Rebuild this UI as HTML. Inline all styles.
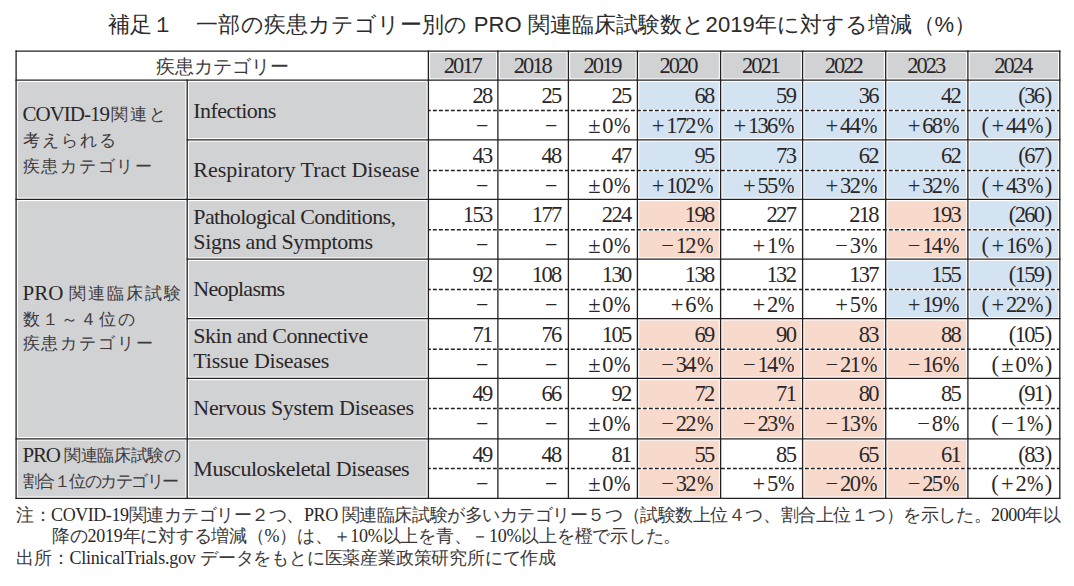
<!DOCTYPE html>
<html><head><meta charset="utf-8"><title>補足1</title>
<style>
html,body{margin:0;padding:0;background:#fff;}
body{width:1074px;height:586px;position:relative;overflow:hidden;}
svg{position:absolute;left:0;top:0;}
.t,.ti{position:absolute;white-space:nowrap;color:#2b2728;font-family:"Liberation Serif",serif;}
.ti{font-family:"Liberation Sans",sans-serif;color:#2b2b2b;}
i{font-style:normal;}
.cj{font-weight:normal;color:#3d393a;}
.op{margin:0 3.5px 0 0;}
.op2{margin-left:3.85px;}
.pl{margin-right:0.2px;}
.pr{margin-left:1.3px;}
.pr2{margin-left:0;}
.pc{display:inline-block;transform:scaleX(.88);margin:0 0.8px 0 0.75px;}
.pc2{margin-right:1.85px;}
</style></head><body>
<svg width="1074" height="586" viewBox="0 0 1074 586">
<rect x="430.20" y="53.00" width="65.90" height="25.40" fill="#d1d2d4"/>
<rect x="499.70" y="53.00" width="66.90" height="25.40" fill="#d1d2d4"/>
<rect x="570.20" y="53.00" width="65.40" height="25.40" fill="#d1d2d4"/>
<rect x="639.20" y="53.00" width="79.60" height="25.40" fill="#d1d2d4"/>
<rect x="722.40" y="53.00" width="78.40" height="25.40" fill="#d1d2d4"/>
<rect x="804.40" y="53.00" width="79.50" height="25.40" fill="#d1d2d4"/>
<rect x="887.50" y="53.00" width="78.60" height="25.40" fill="#d1d2d4"/>
<rect x="969.70" y="53.00" width="88.30" height="25.40" fill="#d1d2d4"/>
<rect x="17.90" y="82.00" width="167.50" height="115.60" fill="#d1d2d4"/>
<rect x="17.90" y="201.20" width="167.50" height="235.80" fill="#d1d2d4"/>
<rect x="17.90" y="440.60" width="167.50" height="55.90" fill="#d1d2d4"/>
<rect x="189.00" y="82.00" width="237.60" height="56.10" fill="#d1d2d4"/>
<rect x="189.00" y="141.70" width="237.60" height="55.90" fill="#d1d2d4"/>
<rect x="189.00" y="201.20" width="237.60" height="56.20" fill="#d1d2d4"/>
<rect x="189.00" y="261.00" width="237.60" height="55.90" fill="#d1d2d4"/>
<rect x="189.00" y="320.50" width="237.60" height="56.10" fill="#d1d2d4"/>
<rect x="189.00" y="380.20" width="237.60" height="56.80" fill="#d1d2d4"/>
<rect x="189.00" y="440.60" width="237.60" height="55.90" fill="#d1d2d4"/>
<rect x="639.20" y="82.00" width="79.60" height="27.30" fill="#d4e3f1"/>
<rect x="639.20" y="111.70" width="79.60" height="26.40" fill="#d4e3f1"/>
<rect x="722.40" y="82.00" width="78.40" height="27.30" fill="#d4e3f1"/>
<rect x="722.40" y="111.70" width="78.40" height="26.40" fill="#d4e3f1"/>
<rect x="804.40" y="82.00" width="79.50" height="27.30" fill="#d4e3f1"/>
<rect x="804.40" y="111.70" width="79.50" height="26.40" fill="#d4e3f1"/>
<rect x="887.50" y="82.00" width="78.60" height="27.30" fill="#d4e3f1"/>
<rect x="887.50" y="111.70" width="78.60" height="26.40" fill="#d4e3f1"/>
<rect x="969.70" y="82.00" width="88.30" height="27.30" fill="#d4e3f1"/>
<rect x="969.70" y="111.70" width="88.30" height="26.40" fill="#d4e3f1"/>
<rect x="639.20" y="141.70" width="79.60" height="27.60" fill="#d4e3f1"/>
<rect x="639.20" y="171.70" width="79.60" height="25.90" fill="#d4e3f1"/>
<rect x="722.40" y="141.70" width="78.40" height="27.60" fill="#d4e3f1"/>
<rect x="722.40" y="171.70" width="78.40" height="25.90" fill="#d4e3f1"/>
<rect x="804.40" y="141.70" width="79.50" height="27.60" fill="#d4e3f1"/>
<rect x="804.40" y="171.70" width="79.50" height="25.90" fill="#d4e3f1"/>
<rect x="887.50" y="141.70" width="78.60" height="27.60" fill="#d4e3f1"/>
<rect x="887.50" y="171.70" width="78.60" height="25.90" fill="#d4e3f1"/>
<rect x="969.70" y="141.70" width="88.30" height="27.60" fill="#d4e3f1"/>
<rect x="969.70" y="171.70" width="88.30" height="25.90" fill="#d4e3f1"/>
<rect x="639.20" y="201.20" width="79.60" height="27.40" fill="#f8dacd"/>
<rect x="639.20" y="231.00" width="79.60" height="26.40" fill="#f8dacd"/>
<rect x="887.50" y="201.20" width="78.60" height="27.40" fill="#f8dacd"/>
<rect x="887.50" y="231.00" width="78.60" height="26.40" fill="#f8dacd"/>
<rect x="969.70" y="201.20" width="88.30" height="27.40" fill="#d4e3f1"/>
<rect x="969.70" y="231.00" width="88.30" height="26.40" fill="#d4e3f1"/>
<rect x="887.50" y="261.00" width="78.60" height="27.30" fill="#d4e3f1"/>
<rect x="887.50" y="290.70" width="78.60" height="26.20" fill="#d4e3f1"/>
<rect x="969.70" y="261.00" width="88.30" height="27.30" fill="#d4e3f1"/>
<rect x="969.70" y="290.70" width="88.30" height="26.20" fill="#d4e3f1"/>
<rect x="639.20" y="320.50" width="79.60" height="27.50" fill="#f8dacd"/>
<rect x="639.20" y="350.40" width="79.60" height="26.20" fill="#f8dacd"/>
<rect x="722.40" y="320.50" width="78.40" height="27.50" fill="#f8dacd"/>
<rect x="722.40" y="350.40" width="78.40" height="26.20" fill="#f8dacd"/>
<rect x="804.40" y="320.50" width="79.50" height="27.50" fill="#f8dacd"/>
<rect x="804.40" y="350.40" width="79.50" height="26.20" fill="#f8dacd"/>
<rect x="887.50" y="320.50" width="78.60" height="27.50" fill="#f8dacd"/>
<rect x="887.50" y="350.40" width="78.60" height="26.20" fill="#f8dacd"/>
<rect x="639.20" y="380.20" width="79.60" height="27.20" fill="#f8dacd"/>
<rect x="639.20" y="409.80" width="79.60" height="27.20" fill="#f8dacd"/>
<rect x="722.40" y="380.20" width="78.40" height="27.20" fill="#f8dacd"/>
<rect x="722.40" y="409.80" width="78.40" height="27.20" fill="#f8dacd"/>
<rect x="804.40" y="380.20" width="79.50" height="27.20" fill="#f8dacd"/>
<rect x="804.40" y="409.80" width="79.50" height="27.20" fill="#f8dacd"/>
<rect x="639.20" y="440.60" width="79.60" height="26.70" fill="#f8dacd"/>
<rect x="639.20" y="469.70" width="79.60" height="26.80" fill="#f8dacd"/>
<rect x="804.40" y="440.60" width="79.50" height="26.70" fill="#f8dacd"/>
<rect x="804.40" y="469.70" width="79.50" height="26.80" fill="#f8dacd"/>
<rect x="887.50" y="440.60" width="78.60" height="26.70" fill="#f8dacd"/>
<rect x="887.50" y="469.70" width="78.60" height="26.80" fill="#f8dacd"/>
<line x1="15.45" y1="51.2" x2="1060.45" y2="51.2" stroke="#231f20" stroke-width="1.3"/>
<line x1="15.45" y1="80.2" x2="1060.45" y2="80.2" stroke="#231f20" stroke-width="1.3"/>
<line x1="186.55" y1="139.9" x2="1060.45" y2="139.9" stroke="#231f20" stroke-width="1.3"/>
<line x1="15.45" y1="199.4" x2="1060.45" y2="199.4" stroke="#231f20" stroke-width="1.3"/>
<line x1="186.55" y1="259.2" x2="1060.45" y2="259.2" stroke="#231f20" stroke-width="1.3"/>
<line x1="186.55" y1="318.7" x2="1060.45" y2="318.7" stroke="#231f20" stroke-width="1.3"/>
<line x1="186.55" y1="378.4" x2="1060.45" y2="378.4" stroke="#231f20" stroke-width="1.3"/>
<line x1="15.45" y1="438.8" x2="1060.45" y2="438.8" stroke="#231f20" stroke-width="1.3"/>
<line x1="15.45" y1="498.3" x2="1060.45" y2="498.3" stroke="#231f20" stroke-width="1.3"/>
<line x1="16.1" y1="50.55" x2="16.1" y2="498.95" stroke="#231f20" stroke-width="1.3"/>
<line x1="187.2" y1="79.55" x2="187.2" y2="498.95" stroke="#231f20" stroke-width="1.3"/>
<line x1="428.4" y1="50.55" x2="428.4" y2="498.95" stroke="#231f20" stroke-width="1.3"/>
<line x1="497.9" y1="50.55" x2="497.9" y2="498.95" stroke="#231f20" stroke-width="1.3"/>
<line x1="568.4" y1="50.55" x2="568.4" y2="498.95" stroke="#231f20" stroke-width="1.3"/>
<line x1="637.4" y1="50.55" x2="637.4" y2="498.95" stroke="#231f20" stroke-width="1.3"/>
<line x1="720.6" y1="50.55" x2="720.6" y2="498.95" stroke="#231f20" stroke-width="1.3"/>
<line x1="802.6" y1="50.55" x2="802.6" y2="498.95" stroke="#231f20" stroke-width="1.3"/>
<line x1="885.7" y1="50.55" x2="885.7" y2="498.95" stroke="#231f20" stroke-width="1.3"/>
<line x1="967.9" y1="50.55" x2="967.9" y2="498.95" stroke="#231f20" stroke-width="1.3"/>
<line x1="1059.8" y1="50.55" x2="1059.8" y2="498.95" stroke="#231f20" stroke-width="1.3"/>
<line x1="428.4" y1="110.50" x2="1059.8" y2="110.50" stroke="#231f20" stroke-width="1.5" stroke-dasharray="3.9 2.1" stroke-dashoffset="-4.5"/>
<line x1="428.4" y1="170.50" x2="1059.8" y2="170.50" stroke="#231f20" stroke-width="1.5" stroke-dasharray="3.9 2.1" stroke-dashoffset="-4.5"/>
<line x1="428.4" y1="229.80" x2="1059.8" y2="229.80" stroke="#231f20" stroke-width="1.5" stroke-dasharray="3.9 2.1" stroke-dashoffset="-4.5"/>
<line x1="428.4" y1="289.50" x2="1059.8" y2="289.50" stroke="#231f20" stroke-width="1.5" stroke-dasharray="3.9 2.1" stroke-dashoffset="-4.5"/>
<line x1="428.4" y1="349.20" x2="1059.8" y2="349.20" stroke="#231f20" stroke-width="1.5" stroke-dasharray="3.9 2.1" stroke-dashoffset="-4.5"/>
<line x1="428.4" y1="408.60" x2="1059.8" y2="408.60" stroke="#231f20" stroke-width="1.5" stroke-dasharray="3.9 2.1" stroke-dashoffset="-4.5"/>
<line x1="428.4" y1="468.50" x2="1059.8" y2="468.50" stroke="#231f20" stroke-width="1.5" stroke-dasharray="3.9 2.1" stroke-dashoffset="-4.5"/>
</svg>
<div class="ti" style="left:108.00px;width:942.00px;top:13.85px;font-size:22.03px;line-height:22.03px;letter-spacing:0.09px;text-align:left;">補足１　一部の疾患カテゴリー別の PRO 関連臨床試験数と2019年に対する増減（%）</div>
<div class="t" style="left:16.10px;width:412.30px;top:57.71px;font-size:18.5px;line-height:18.5px;letter-spacing:0px;text-align:center;"><b class="cj">疾患カテゴリー</b></div>
<div class="t" style="left:428.40px;width:67.50px;top:54.66px;font-size:22.5px;line-height:22.5px;letter-spacing:-2.0px;text-align:center;">2017</div>
<div class="t" style="left:497.90px;width:68.50px;top:54.66px;font-size:22.5px;line-height:22.5px;letter-spacing:-2.0px;text-align:center;">2018</div>
<div class="t" style="left:568.40px;width:67.00px;top:54.66px;font-size:22.5px;line-height:22.5px;letter-spacing:-2.0px;text-align:center;">2019</div>
<div class="t" style="left:637.40px;width:81.20px;top:54.66px;font-size:22.5px;line-height:22.5px;letter-spacing:-2.0px;text-align:center;">2020</div>
<div class="t" style="left:720.60px;width:80.00px;top:54.66px;font-size:22.5px;line-height:22.5px;letter-spacing:-2.0px;text-align:center;">2021</div>
<div class="t" style="left:802.60px;width:81.10px;top:54.66px;font-size:22.5px;line-height:22.5px;letter-spacing:-2.0px;text-align:center;">2022</div>
<div class="t" style="left:885.70px;width:80.20px;top:54.66px;font-size:22.5px;line-height:22.5px;letter-spacing:-2.0px;text-align:center;">2023</div>
<div class="t" style="left:967.90px;width:89.90px;top:54.66px;font-size:22.5px;line-height:22.5px;letter-spacing:-2.0px;text-align:center;">2024</div>
<div class="t" style="left:22.50px;width:237.50px;top:104.41px;font-size:21px;line-height:21px;letter-spacing:0px;text-align:left;"><span style="letter-spacing:-1.0px">COVID-19</span><span style="font-size:17px;letter-spacing:2.2px;color:#3d393a;margin-left:2px;position:relative;top:-1.0px">関連と</span></div>
<div class="t" style="left:22.50px;width:237.50px;top:128.91px;font-size:21px;line-height:21px;letter-spacing:0px;text-align:left;"><span style="font-size:17px;letter-spacing:2.2px;color:#3d393a">考えられる</span></div>
<div class="t" style="left:22.50px;width:237.50px;top:154.91px;font-size:21px;line-height:21px;letter-spacing:0px;text-align:left;"><span style="font-size:17px;letter-spacing:1.8px;color:#3d393a">疾患カテゴリー</span></div>
<div class="t" style="left:22.50px;width:237.50px;top:283.31px;font-size:21px;line-height:21px;letter-spacing:0px;text-align:left;">PRO <span style="font-size:17px;letter-spacing:2.1px;color:#3d393a;position:relative;top:-1.0px">関連臨床試験</span></div>
<div class="t" style="left:22.50px;width:237.50px;top:307.71px;font-size:21px;line-height:21px;letter-spacing:0px;text-align:left;"><span style="font-size:17px;letter-spacing:2.2px;color:#3d393a">数１～４位の</span></div>
<div class="t" style="left:22.50px;width:237.50px;top:332.01px;font-size:21px;line-height:21px;letter-spacing:0px;text-align:left;"><span style="font-size:17px;letter-spacing:1.9px;color:#3d393a">疾患カテゴリー</span></div>
<div class="t" style="left:22.50px;width:237.50px;top:445.41px;font-size:21px;line-height:21px;letter-spacing:0px;text-align:left;"><span style="letter-spacing:-1.2px">PRO </span><span style="font-size:17px;letter-spacing:-0.3px;color:#3d393a;position:relative;top:-1.0px">関連臨床試験の</span></div>
<div class="t" style="left:22.50px;width:237.50px;top:469.91px;font-size:21px;line-height:21px;letter-spacing:0px;text-align:left;"><span style="font-size:17px;letter-spacing:-1.5px;color:#3d393a">割合１位のカテゴリー</span></div>
<div class="t" style="left:193.30px;width:233.70px;top:99.88px;font-size:22px;line-height:22px;letter-spacing:-0.55px;text-align:left;">Infections</div>
<div class="t" style="left:428.40px;width:63.10px;top:85.06px;font-size:22.5px;line-height:22.5px;letter-spacing:-1.7px;text-align:right;">28</div>
<div class="t" style="left:428.40px;width:60.10px;top:115.08px;font-size:22px;line-height:22px;letter-spacing:0px;text-align:right;">−</div>
<div class="t" style="left:497.90px;width:62.60px;top:85.06px;font-size:22.5px;line-height:22.5px;letter-spacing:-1.7px;text-align:right;">25</div>
<div class="t" style="left:497.90px;width:59.60px;top:115.08px;font-size:22px;line-height:22px;letter-spacing:0px;text-align:right;">−</div>
<div class="t" style="left:568.40px;width:62.10px;top:85.06px;font-size:22.5px;line-height:22.5px;letter-spacing:-1.7px;text-align:right;">25</div>
<div class="t" style="left:568.40px;width:62.10px;top:115.36px;font-size:22.5px;line-height:22.5px;letter-spacing:-1.7px;text-align:right;"><i class="op">±</i>0<i class="pc">%</i></div>
<div class="t" style="left:637.40px;width:76.10px;top:85.06px;font-size:22.5px;line-height:22.5px;letter-spacing:-1.7px;text-align:right;">68</div>
<div class="t" style="left:637.40px;width:76.10px;top:115.36px;font-size:22.5px;line-height:22.5px;letter-spacing:-1.7px;text-align:right;"><i class="op">+</i>172<i class="pc">%</i></div>
<div class="t" style="left:720.60px;width:74.60px;top:85.06px;font-size:22.5px;line-height:22.5px;letter-spacing:-1.7px;text-align:right;">59</div>
<div class="t" style="left:720.60px;width:74.60px;top:115.36px;font-size:22.5px;line-height:22.5px;letter-spacing:-1.7px;text-align:right;"><i class="op">+</i>136<i class="pc">%</i></div>
<div class="t" style="left:802.60px;width:75.20px;top:85.06px;font-size:22.5px;line-height:22.5px;letter-spacing:-1.7px;text-align:right;">36</div>
<div class="t" style="left:802.60px;width:75.20px;top:115.36px;font-size:22.5px;line-height:22.5px;letter-spacing:-1.7px;text-align:right;"><i class="op">+</i>44<i class="pc">%</i></div>
<div class="t" style="left:885.70px;width:74.30px;top:85.06px;font-size:22.5px;line-height:22.5px;letter-spacing:-1.7px;text-align:right;">42</div>
<div class="t" style="left:885.70px;width:74.30px;top:115.36px;font-size:22.5px;line-height:22.5px;letter-spacing:-1.7px;text-align:right;"><i class="op">+</i>68<i class="pc">%</i></div>
<div class="t" style="left:967.90px;width:82.60px;top:85.06px;font-size:22.5px;line-height:22.5px;letter-spacing:-1.7px;text-align:right;"><i class="pl">(</i>36<i class="pr">)</i></div>
<div class="t" style="left:967.90px;width:82.60px;top:115.36px;font-size:22.5px;line-height:22.5px;letter-spacing:-1.7px;text-align:right;"><i class="pl">(</i><i class="op op2">+</i>44<i class="pc pc2">%</i><i class="pr2">)</i></div>
<div class="t" style="left:193.30px;width:233.70px;top:159.07px;font-size:22px;line-height:22px;letter-spacing:-0.04px;text-align:left;">Respiratory Tract Disease</div>
<div class="t" style="left:428.40px;width:63.10px;top:144.76px;font-size:22.5px;line-height:22.5px;letter-spacing:-1.7px;text-align:right;">43</div>
<div class="t" style="left:428.40px;width:60.10px;top:175.07px;font-size:22px;line-height:22px;letter-spacing:0px;text-align:right;">−</div>
<div class="t" style="left:497.90px;width:62.60px;top:144.76px;font-size:22.5px;line-height:22.5px;letter-spacing:-1.7px;text-align:right;">48</div>
<div class="t" style="left:497.90px;width:59.60px;top:175.07px;font-size:22px;line-height:22px;letter-spacing:0px;text-align:right;">−</div>
<div class="t" style="left:568.40px;width:62.10px;top:144.76px;font-size:22.5px;line-height:22.5px;letter-spacing:-1.7px;text-align:right;">47</div>
<div class="t" style="left:568.40px;width:62.10px;top:175.36px;font-size:22.5px;line-height:22.5px;letter-spacing:-1.7px;text-align:right;"><i class="op">±</i>0<i class="pc">%</i></div>
<div class="t" style="left:637.40px;width:76.10px;top:144.76px;font-size:22.5px;line-height:22.5px;letter-spacing:-1.7px;text-align:right;">95</div>
<div class="t" style="left:637.40px;width:76.10px;top:175.36px;font-size:22.5px;line-height:22.5px;letter-spacing:-1.7px;text-align:right;"><i class="op">+</i>102<i class="pc">%</i></div>
<div class="t" style="left:720.60px;width:74.60px;top:144.76px;font-size:22.5px;line-height:22.5px;letter-spacing:-1.7px;text-align:right;">73</div>
<div class="t" style="left:720.60px;width:74.60px;top:175.36px;font-size:22.5px;line-height:22.5px;letter-spacing:-1.7px;text-align:right;"><i class="op">+</i>55<i class="pc">%</i></div>
<div class="t" style="left:802.60px;width:75.20px;top:144.76px;font-size:22.5px;line-height:22.5px;letter-spacing:-1.7px;text-align:right;">62</div>
<div class="t" style="left:802.60px;width:75.20px;top:175.36px;font-size:22.5px;line-height:22.5px;letter-spacing:-1.7px;text-align:right;"><i class="op">+</i>32<i class="pc">%</i></div>
<div class="t" style="left:885.70px;width:74.30px;top:144.76px;font-size:22.5px;line-height:22.5px;letter-spacing:-1.7px;text-align:right;">62</div>
<div class="t" style="left:885.70px;width:74.30px;top:175.36px;font-size:22.5px;line-height:22.5px;letter-spacing:-1.7px;text-align:right;"><i class="op">+</i>32<i class="pc">%</i></div>
<div class="t" style="left:967.90px;width:82.60px;top:144.76px;font-size:22.5px;line-height:22.5px;letter-spacing:-1.7px;text-align:right;"><i class="pl">(</i>67<i class="pr">)</i></div>
<div class="t" style="left:967.90px;width:82.60px;top:175.36px;font-size:22.5px;line-height:22.5px;letter-spacing:-1.7px;text-align:right;"><i class="pl">(</i><i class="op op2">+</i>43<i class="pc pc2">%</i><i class="pr2">)</i></div>
<div class="t" style="left:193.30px;width:233.70px;top:205.97px;font-size:22px;line-height:22px;letter-spacing:-0.65px;text-align:left;">Pathological Conditions,</div>
<div class="t" style="left:193.30px;width:233.70px;top:231.47px;font-size:22px;line-height:22px;letter-spacing:-0.35px;text-align:left;">Signs and Symptoms</div>
<div class="t" style="left:428.40px;width:63.10px;top:204.26px;font-size:22.5px;line-height:22.5px;letter-spacing:-1.7px;text-align:right;">153</div>
<div class="t" style="left:428.40px;width:60.10px;top:234.38px;font-size:22px;line-height:22px;letter-spacing:0px;text-align:right;">−</div>
<div class="t" style="left:497.90px;width:62.60px;top:204.26px;font-size:22.5px;line-height:22.5px;letter-spacing:-1.7px;text-align:right;">177</div>
<div class="t" style="left:497.90px;width:59.60px;top:234.38px;font-size:22px;line-height:22px;letter-spacing:0px;text-align:right;">−</div>
<div class="t" style="left:568.40px;width:62.10px;top:204.26px;font-size:22.5px;line-height:22.5px;letter-spacing:-1.7px;text-align:right;">224</div>
<div class="t" style="left:568.40px;width:62.10px;top:234.66px;font-size:22.5px;line-height:22.5px;letter-spacing:-1.7px;text-align:right;"><i class="op">±</i>0<i class="pc">%</i></div>
<div class="t" style="left:637.40px;width:76.10px;top:204.26px;font-size:22.5px;line-height:22.5px;letter-spacing:-1.7px;text-align:right;">198</div>
<div class="t" style="left:637.40px;width:76.10px;top:234.66px;font-size:22.5px;line-height:22.5px;letter-spacing:-1.7px;text-align:right;"><i class="op">−</i>12<i class="pc">%</i></div>
<div class="t" style="left:720.60px;width:74.60px;top:204.26px;font-size:22.5px;line-height:22.5px;letter-spacing:-1.7px;text-align:right;">227</div>
<div class="t" style="left:720.60px;width:74.60px;top:234.66px;font-size:22.5px;line-height:22.5px;letter-spacing:-1.7px;text-align:right;"><i class="op">+</i>1<i class="pc">%</i></div>
<div class="t" style="left:802.60px;width:75.20px;top:204.26px;font-size:22.5px;line-height:22.5px;letter-spacing:-1.7px;text-align:right;">218</div>
<div class="t" style="left:802.60px;width:75.20px;top:234.66px;font-size:22.5px;line-height:22.5px;letter-spacing:-1.7px;text-align:right;"><i class="op">−</i>3<i class="pc">%</i></div>
<div class="t" style="left:885.70px;width:74.30px;top:204.26px;font-size:22.5px;line-height:22.5px;letter-spacing:-1.7px;text-align:right;">193</div>
<div class="t" style="left:885.70px;width:74.30px;top:234.66px;font-size:22.5px;line-height:22.5px;letter-spacing:-1.7px;text-align:right;"><i class="op">−</i>14<i class="pc">%</i></div>
<div class="t" style="left:967.90px;width:82.60px;top:204.26px;font-size:22.5px;line-height:22.5px;letter-spacing:-1.7px;text-align:right;"><i class="pl">(</i>260<i class="pr">)</i></div>
<div class="t" style="left:967.90px;width:82.60px;top:234.66px;font-size:22.5px;line-height:22.5px;letter-spacing:-1.7px;text-align:right;"><i class="pl">(</i><i class="op op2">+</i>16<i class="pc pc2">%</i><i class="pr2">)</i></div>
<div class="t" style="left:193.30px;width:233.70px;top:278.38px;font-size:22px;line-height:22px;letter-spacing:-0.74px;text-align:left;">Neoplasms</div>
<div class="t" style="left:428.40px;width:63.10px;top:264.06px;font-size:22.5px;line-height:22.5px;letter-spacing:-1.7px;text-align:right;">92</div>
<div class="t" style="left:428.40px;width:60.10px;top:294.07px;font-size:22px;line-height:22px;letter-spacing:0px;text-align:right;">−</div>
<div class="t" style="left:497.90px;width:62.60px;top:264.06px;font-size:22.5px;line-height:22.5px;letter-spacing:-1.7px;text-align:right;">108</div>
<div class="t" style="left:497.90px;width:59.60px;top:294.07px;font-size:22px;line-height:22px;letter-spacing:0px;text-align:right;">−</div>
<div class="t" style="left:568.40px;width:62.10px;top:264.06px;font-size:22.5px;line-height:22.5px;letter-spacing:-1.7px;text-align:right;">130</div>
<div class="t" style="left:568.40px;width:62.10px;top:294.36px;font-size:22.5px;line-height:22.5px;letter-spacing:-1.7px;text-align:right;"><i class="op">±</i>0<i class="pc">%</i></div>
<div class="t" style="left:637.40px;width:76.10px;top:264.06px;font-size:22.5px;line-height:22.5px;letter-spacing:-1.7px;text-align:right;">138</div>
<div class="t" style="left:637.40px;width:76.10px;top:294.36px;font-size:22.5px;line-height:22.5px;letter-spacing:-1.7px;text-align:right;"><i class="op">+</i>6<i class="pc">%</i></div>
<div class="t" style="left:720.60px;width:74.60px;top:264.06px;font-size:22.5px;line-height:22.5px;letter-spacing:-1.7px;text-align:right;">132</div>
<div class="t" style="left:720.60px;width:74.60px;top:294.36px;font-size:22.5px;line-height:22.5px;letter-spacing:-1.7px;text-align:right;"><i class="op">+</i>2<i class="pc">%</i></div>
<div class="t" style="left:802.60px;width:75.20px;top:264.06px;font-size:22.5px;line-height:22.5px;letter-spacing:-1.7px;text-align:right;">137</div>
<div class="t" style="left:802.60px;width:75.20px;top:294.36px;font-size:22.5px;line-height:22.5px;letter-spacing:-1.7px;text-align:right;"><i class="op">+</i>5<i class="pc">%</i></div>
<div class="t" style="left:885.70px;width:74.30px;top:264.06px;font-size:22.5px;line-height:22.5px;letter-spacing:-1.7px;text-align:right;">155</div>
<div class="t" style="left:885.70px;width:74.30px;top:294.36px;font-size:22.5px;line-height:22.5px;letter-spacing:-1.7px;text-align:right;"><i class="op">+</i>19<i class="pc">%</i></div>
<div class="t" style="left:967.90px;width:82.60px;top:264.06px;font-size:22.5px;line-height:22.5px;letter-spacing:-1.7px;text-align:right;"><i class="pl">(</i>159<i class="pr">)</i></div>
<div class="t" style="left:967.90px;width:82.60px;top:294.36px;font-size:22.5px;line-height:22.5px;letter-spacing:-1.7px;text-align:right;"><i class="pl">(</i><i class="op op2">+</i>22<i class="pc pc2">%</i><i class="pr2">)</i></div>
<div class="t" style="left:193.30px;width:233.70px;top:325.47px;font-size:22px;line-height:22px;letter-spacing:-0.47px;text-align:left;">Skin and Connective</div>
<div class="t" style="left:193.30px;width:233.70px;top:350.47px;font-size:22px;line-height:22px;letter-spacing:-0.22px;text-align:left;">Tissue Diseases</div>
<div class="t" style="left:428.40px;width:63.10px;top:323.56px;font-size:22.5px;line-height:22.5px;letter-spacing:-1.7px;text-align:right;">71</div>
<div class="t" style="left:428.40px;width:60.10px;top:353.77px;font-size:22px;line-height:22px;letter-spacing:0px;text-align:right;">−</div>
<div class="t" style="left:497.90px;width:62.60px;top:323.56px;font-size:22.5px;line-height:22.5px;letter-spacing:-1.7px;text-align:right;">76</div>
<div class="t" style="left:497.90px;width:59.60px;top:353.77px;font-size:22px;line-height:22px;letter-spacing:0px;text-align:right;">−</div>
<div class="t" style="left:568.40px;width:62.10px;top:323.56px;font-size:22.5px;line-height:22.5px;letter-spacing:-1.7px;text-align:right;">105</div>
<div class="t" style="left:568.40px;width:62.10px;top:354.06px;font-size:22.5px;line-height:22.5px;letter-spacing:-1.7px;text-align:right;"><i class="op">±</i>0<i class="pc">%</i></div>
<div class="t" style="left:637.40px;width:76.10px;top:323.56px;font-size:22.5px;line-height:22.5px;letter-spacing:-1.7px;text-align:right;">69</div>
<div class="t" style="left:637.40px;width:76.10px;top:354.06px;font-size:22.5px;line-height:22.5px;letter-spacing:-1.7px;text-align:right;"><i class="op">−</i>34<i class="pc">%</i></div>
<div class="t" style="left:720.60px;width:74.60px;top:323.56px;font-size:22.5px;line-height:22.5px;letter-spacing:-1.7px;text-align:right;">90</div>
<div class="t" style="left:720.60px;width:74.60px;top:354.06px;font-size:22.5px;line-height:22.5px;letter-spacing:-1.7px;text-align:right;"><i class="op">−</i>14<i class="pc">%</i></div>
<div class="t" style="left:802.60px;width:75.20px;top:323.56px;font-size:22.5px;line-height:22.5px;letter-spacing:-1.7px;text-align:right;">83</div>
<div class="t" style="left:802.60px;width:75.20px;top:354.06px;font-size:22.5px;line-height:22.5px;letter-spacing:-1.7px;text-align:right;"><i class="op">−</i>21<i class="pc">%</i></div>
<div class="t" style="left:885.70px;width:74.30px;top:323.56px;font-size:22.5px;line-height:22.5px;letter-spacing:-1.7px;text-align:right;">88</div>
<div class="t" style="left:885.70px;width:74.30px;top:354.06px;font-size:22.5px;line-height:22.5px;letter-spacing:-1.7px;text-align:right;"><i class="op">−</i>16<i class="pc">%</i></div>
<div class="t" style="left:967.90px;width:82.60px;top:323.56px;font-size:22.5px;line-height:22.5px;letter-spacing:-1.7px;text-align:right;"><i class="pl">(</i>105<i class="pr">)</i></div>
<div class="t" style="left:967.90px;width:82.60px;top:354.06px;font-size:22.5px;line-height:22.5px;letter-spacing:-1.7px;text-align:right;"><i class="pl">(</i><i class="op op2">±</i>0<i class="pc pc2">%</i><i class="pr2">)</i></div>
<div class="t" style="left:193.30px;width:233.70px;top:397.47px;font-size:22px;line-height:22px;letter-spacing:-0.3px;text-align:left;">Nervous System Diseases</div>
<div class="t" style="left:428.40px;width:63.10px;top:383.26px;font-size:22.5px;line-height:22.5px;letter-spacing:-1.7px;text-align:right;">49</div>
<div class="t" style="left:428.40px;width:60.10px;top:413.18px;font-size:22px;line-height:22px;letter-spacing:0px;text-align:right;">−</div>
<div class="t" style="left:497.90px;width:62.60px;top:383.26px;font-size:22.5px;line-height:22.5px;letter-spacing:-1.7px;text-align:right;">66</div>
<div class="t" style="left:497.90px;width:59.60px;top:413.18px;font-size:22px;line-height:22px;letter-spacing:0px;text-align:right;">−</div>
<div class="t" style="left:568.40px;width:62.10px;top:383.26px;font-size:22.5px;line-height:22.5px;letter-spacing:-1.7px;text-align:right;">92</div>
<div class="t" style="left:568.40px;width:62.10px;top:413.46px;font-size:22.5px;line-height:22.5px;letter-spacing:-1.7px;text-align:right;"><i class="op">±</i>0<i class="pc">%</i></div>
<div class="t" style="left:637.40px;width:76.10px;top:383.26px;font-size:22.5px;line-height:22.5px;letter-spacing:-1.7px;text-align:right;">72</div>
<div class="t" style="left:637.40px;width:76.10px;top:413.46px;font-size:22.5px;line-height:22.5px;letter-spacing:-1.7px;text-align:right;"><i class="op">−</i>22<i class="pc">%</i></div>
<div class="t" style="left:720.60px;width:74.60px;top:383.26px;font-size:22.5px;line-height:22.5px;letter-spacing:-1.7px;text-align:right;">71</div>
<div class="t" style="left:720.60px;width:74.60px;top:413.46px;font-size:22.5px;line-height:22.5px;letter-spacing:-1.7px;text-align:right;"><i class="op">−</i>23<i class="pc">%</i></div>
<div class="t" style="left:802.60px;width:75.20px;top:383.26px;font-size:22.5px;line-height:22.5px;letter-spacing:-1.7px;text-align:right;">80</div>
<div class="t" style="left:802.60px;width:75.20px;top:413.46px;font-size:22.5px;line-height:22.5px;letter-spacing:-1.7px;text-align:right;"><i class="op">−</i>13<i class="pc">%</i></div>
<div class="t" style="left:885.70px;width:74.30px;top:383.26px;font-size:22.5px;line-height:22.5px;letter-spacing:-1.7px;text-align:right;">85</div>
<div class="t" style="left:885.70px;width:74.30px;top:413.46px;font-size:22.5px;line-height:22.5px;letter-spacing:-1.7px;text-align:right;"><i class="op">−</i>8<i class="pc">%</i></div>
<div class="t" style="left:967.90px;width:82.60px;top:383.26px;font-size:22.5px;line-height:22.5px;letter-spacing:-1.7px;text-align:right;"><i class="pl">(</i>91<i class="pr">)</i></div>
<div class="t" style="left:967.90px;width:82.60px;top:413.46px;font-size:22.5px;line-height:22.5px;letter-spacing:-1.7px;text-align:right;"><i class="pl">(</i><i class="op op2">−</i>1<i class="pc pc2">%</i><i class="pr2">)</i></div>
<div class="t" style="left:193.30px;width:233.70px;top:457.68px;font-size:22px;line-height:22px;letter-spacing:-0.45px;text-align:left;">Musculoskeletal Diseases</div>
<div class="t" style="left:428.40px;width:63.10px;top:443.66px;font-size:22.5px;line-height:22.5px;letter-spacing:-1.7px;text-align:right;">49</div>
<div class="t" style="left:428.40px;width:60.10px;top:473.07px;font-size:22px;line-height:22px;letter-spacing:0px;text-align:right;">−</div>
<div class="t" style="left:497.90px;width:62.60px;top:443.66px;font-size:22.5px;line-height:22.5px;letter-spacing:-1.7px;text-align:right;">48</div>
<div class="t" style="left:497.90px;width:59.60px;top:473.07px;font-size:22px;line-height:22px;letter-spacing:0px;text-align:right;">−</div>
<div class="t" style="left:568.40px;width:62.10px;top:443.66px;font-size:22.5px;line-height:22.5px;letter-spacing:-1.7px;text-align:right;">81</div>
<div class="t" style="left:568.40px;width:62.10px;top:473.36px;font-size:22.5px;line-height:22.5px;letter-spacing:-1.7px;text-align:right;"><i class="op">±</i>0<i class="pc">%</i></div>
<div class="t" style="left:637.40px;width:76.10px;top:443.66px;font-size:22.5px;line-height:22.5px;letter-spacing:-1.7px;text-align:right;">55</div>
<div class="t" style="left:637.40px;width:76.10px;top:473.36px;font-size:22.5px;line-height:22.5px;letter-spacing:-1.7px;text-align:right;"><i class="op">−</i>32<i class="pc">%</i></div>
<div class="t" style="left:720.60px;width:74.60px;top:443.66px;font-size:22.5px;line-height:22.5px;letter-spacing:-1.7px;text-align:right;">85</div>
<div class="t" style="left:720.60px;width:74.60px;top:473.36px;font-size:22.5px;line-height:22.5px;letter-spacing:-1.7px;text-align:right;"><i class="op">+</i>5<i class="pc">%</i></div>
<div class="t" style="left:802.60px;width:75.20px;top:443.66px;font-size:22.5px;line-height:22.5px;letter-spacing:-1.7px;text-align:right;">65</div>
<div class="t" style="left:802.60px;width:75.20px;top:473.36px;font-size:22.5px;line-height:22.5px;letter-spacing:-1.7px;text-align:right;"><i class="op">−</i>20<i class="pc">%</i></div>
<div class="t" style="left:885.70px;width:74.30px;top:443.66px;font-size:22.5px;line-height:22.5px;letter-spacing:-1.7px;text-align:right;">61</div>
<div class="t" style="left:885.70px;width:74.30px;top:473.36px;font-size:22.5px;line-height:22.5px;letter-spacing:-1.7px;text-align:right;"><i class="op">−</i>25<i class="pc">%</i></div>
<div class="t" style="left:967.90px;width:82.60px;top:443.66px;font-size:22.5px;line-height:22.5px;letter-spacing:-1.7px;text-align:right;"><i class="pl">(</i>83<i class="pr">)</i></div>
<div class="t" style="left:967.90px;width:82.60px;top:473.36px;font-size:22.5px;line-height:22.5px;letter-spacing:-1.7px;text-align:right;"><i class="pl">(</i><i class="op op2">+</i>2<i class="pc pc2">%</i><i class="pr2">)</i></div>
<div class="t note" style="left:16.00px;width:1058.00px;top:505.72px;font-size:18px;line-height:18px;letter-spacing:-0.45px;text-align:left;"><b class="cj">注：</b>COVID-19<b class="cj">関連カテゴリー２つ、</b>PRO <b class="cj">関連臨床試験が多いカテゴリー５つ（試験数上位４つ、割合上位１つ）を示した。</b>2000<b class="cj">年以</b></div>
<div class="t note" style="left:52.00px;width:1022.00px;top:527.42px;font-size:18px;line-height:18px;letter-spacing:-0.25px;text-align:left;"><b class="cj">降の</b>2019<b class="cj">年に対する増減（</b>%<b class="cj">）は、＋</b>10%<b class="cj">以上を青、－</b>10%<b class="cj">以上を橙で示した。</b></div>
<div class="t note" style="left:16.00px;width:1058.00px;top:549.12px;font-size:18px;line-height:18px;letter-spacing:-0.2px;text-align:left;"><b class="cj">出所：</b>ClinicalTrials.gov <b class="cj">データをもとに医薬産業政策研究所にて作成</b></div>
</body></html>
